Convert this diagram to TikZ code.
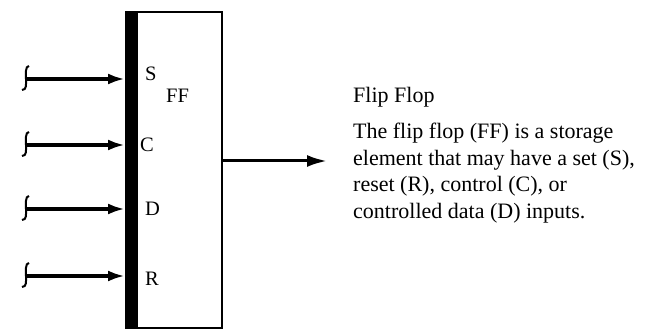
\documentclass[tikz,border=0pt]{standalone}
\usepackage{fontspec}
\setmainfont{Liberation Serif}
\usetikzlibrary{arrows.meta,positioning}
\tikzset{
  pin/.style={line width=3.6pt,-{Latex[length=17pt,width=11pt]}},
  brk/.style={line width=2pt},
  lbl/.style={anchor=west,inner sep=0pt,font=\fontsize{20.5}{24}\selectfont},
}
\begin{document}
\begin{tikzpicture}[x=1pt,y=-1pt]
    \useasboundingbox (0,0) rectangle (654,331);

    \node (ff) [draw,line width=1.6pt,minimum width=96pt,minimum height=316pt,inner sep=0pt,anchor=north west] at (125,11) {};
    \fill (ff.north west) rectangle ([xshift=13pt]ff.south west);

    \foreach \n/\y/\dx/\ly in {S/79/145/74,C/145/140/145,D/209/145/209,R/276/145/279} {
      \coordinate (s\n) at (26,\y);
      \coordinate (in\n) at (125,\y);
      \draw [pin] (s\n) -- (in\n);
      \draw [brk] ([shift={(3,-13)}]s\n) .. controls ([shift={(-1,-13)}]s\n) and ([shift={(0,-5)}]s\n) .. (s\n)
        .. controls ([shift={(0,5)}]s\n) and ([shift={(1,11)}]s\n) .. ([shift={(-4,11)}]s\n);
      \node (l\n) [lbl] at (\dx,\ly) {\n};
    }
    \node (lFF) [lbl] at (166,96) {FF};

    \coordinate (out) at (221,161);
    \coordinate (outend) at (327,161);
    \draw [line width=3pt,-{Latex[length=20pt,width=12pt]}] (out) -- (outend);

    \node (title) [anchor=base west,inner sep=0pt,font=\fontsize{22}{26}\selectfont] at (353,103) {Flip Flop};
    \node (desc) [anchor=north west,inner sep=0pt,align=left,font=\fontsize{22}{26.5}\selectfont] at (353,123)
      {The flip flop (FF) is a storage\\element that may have a set (S),\\reset (R), control (C), or\\controlled data (D) inputs.};
\end{tikzpicture}
\end{document}
